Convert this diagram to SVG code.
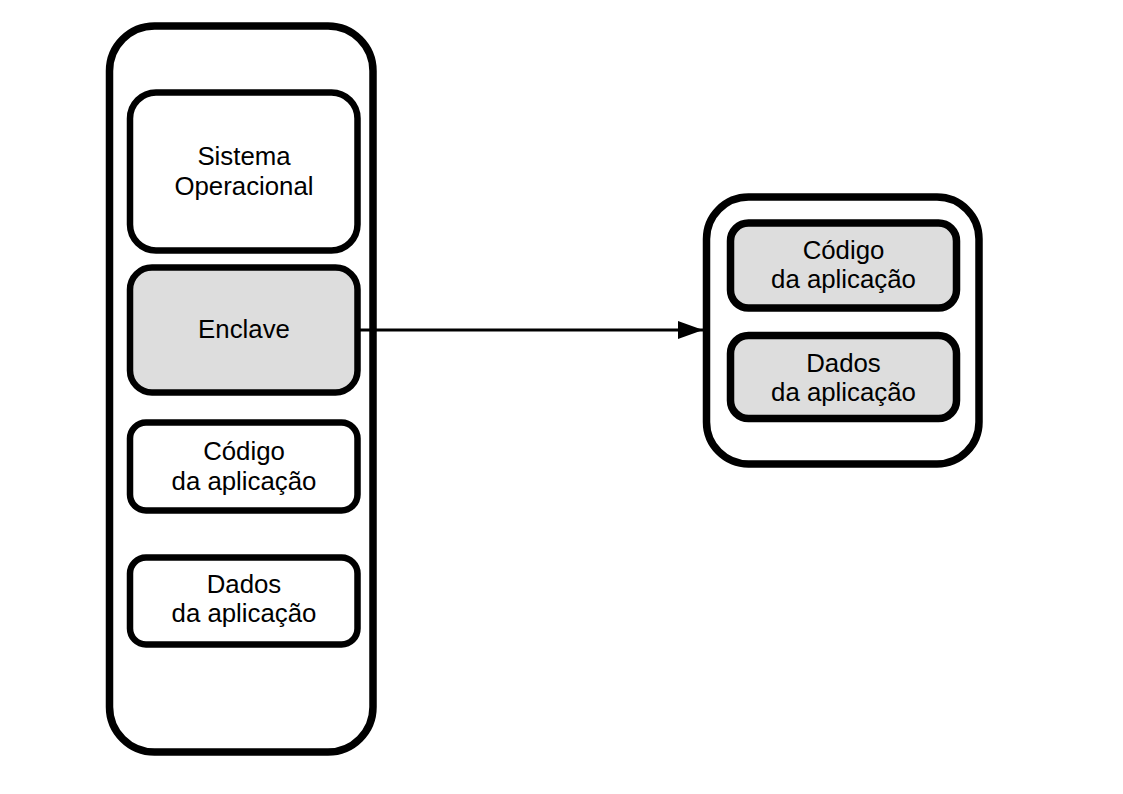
<svg xmlns="http://www.w3.org/2000/svg" width="1123" height="794" viewBox="0 0 1123 794">
<style>
.box{fill:#ffffff;stroke:#000000;}
.grey{fill:#dddddd;}
.lbl{font-family:"Liberation Sans",Arial,sans-serif;font-size:25.8px;fill:#000000;text-anchor:middle;}
</style>
<defs>
<marker id="arr" markerUnits="userSpaceOnUse" markerWidth="26" markerHeight="20" refX="25" refY="9" orient="auto">
<path d="M0,0 L25,9 L0,18 Z" fill="#000000"/>
</marker>
</defs>
<rect width="1123" height="794" fill="#ffffff"/>
<g id="host">
<rect class="box" x="109.5" y="26" width="263.5" height="726" rx="45" ry="45" stroke-width="7.5"/>
</g>
<g id="so">
<rect class="box" x="130" y="92.5" width="227.5" height="158" rx="26" ry="26" stroke-width="6.5"/>
<text class="lbl" x="244" y="165">Sistema</text>
<text class="lbl" x="244" y="195">Operacional</text>
</g>
<g id="enclave">
<rect class="box grey" x="130" y="267.5" width="227.5" height="125" rx="22" ry="22" stroke-width="6.5"/>
<text class="lbl" x="244" y="338">Enclave</text>
</g>
<g id="codigo-left">
<rect class="box" x="130" y="422.5" width="227.5" height="88" rx="16" ry="16" stroke-width="6.5"/>
<text class="lbl" x="244" y="460">Código</text>
<text class="lbl" x="244" y="490">da aplicação</text>
</g>
<g id="dados-left">
<rect class="box" x="130" y="557.5" width="227.5" height="87" rx="16" ry="16" stroke-width="6.5"/>
<text class="lbl" x="244" y="593">Dados</text>
<text class="lbl" x="244" y="622">da aplicação</text>
</g>
<g id="enclave-detail">
<rect class="box" x="706.5" y="197" width="272.5" height="267" rx="42" ry="42" stroke-width="7.5"/>
</g>
<g id="codigo-right">
<rect class="box grey" x="730.5" y="223" width="226" height="85" rx="18" ry="18" stroke-width="7.5"/>
<text class="lbl" x="843.5" y="259">Código</text>
<text class="lbl" x="843.5" y="288">da aplicação</text>
</g>
<g id="dados-right">
<rect class="box grey" x="730.5" y="335.5" width="226" height="83" rx="18" ry="18" stroke-width="7.5"/>
<text class="lbl" x="843.5" y="372">Dados</text>
<text class="lbl" x="843.5" y="401">da aplicação</text>
</g>
<g id="connectors">
<line x1="360" y1="330" x2="703" y2="330" stroke="#000000" stroke-width="3" marker-end="url(#arr)"/>
</g>
</svg>
